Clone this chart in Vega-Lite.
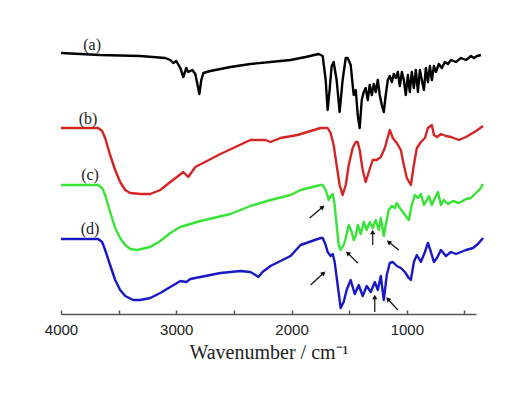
{
  "$schema": "https://vega.github.io/schema/vega-lite/v6.json",
  "width": 415,
  "height": 284,
  "autosize": {"type": "none"},
  "padding": {"left": 61, "top": 30, "right": 54, "bottom": 84},
  "background": "white",
  "config": {"view": {"stroke": null}},
  "datasets": {
    "spectra": [
      {"s":"a","wn":4000,"v":261},{"s":"a","wn":3661,"v":259},{"s":"a","wn":3313,"v":258},{"s":"a","wn":3096,"v":256},{"s":"a","wn":3052,"v":254},{"s":"a","wn":3026,"v":251},{"s":"a","wn":3000,"v":253},{"s":"a","wn":2965,"v":246},{"s":"a","wn":2939,"v":237},{"s":"a","wn":2913,"v":246},{"s":"a","wn":2896,"v":242},{"s":"a","wn":2861,"v":244},{"s":"a","wn":2835,"v":240},{"s":"a","wn":2817,"v":230},{"s":"a","wn":2800,"v":220},{"s":"a","wn":2783,"v":234},{"s":"a","wn":2765,"v":241},{"s":"a","wn":2704,"v":243},{"s":"a","wn":2530,"v":247},{"s":"a","wn":2357,"v":250},{"s":"a","wn":2183,"v":252},{"s":"a","wn":2009,"v":254},{"s":"a","wn":1878,"v":257},{"s":"a","wn":1765,"v":260},{"s":"a","wn":1730,"v":258},{"s":"a","wn":1704,"v":234},{"s":"a","wn":1687,"v":204},{"s":"a","wn":1670,"v":224},{"s":"a","wn":1652,"v":248},{"s":"a","wn":1635,"v":252},{"s":"a","wn":1609,"v":234},{"s":"a","wn":1583,"v":202},{"s":"a","wn":1557,"v":234},{"s":"a","wn":1530,"v":256},{"s":"a","wn":1513,"v":256},{"s":"a","wn":1487,"v":249},{"s":"a","wn":1461,"v":219},{"s":"a","wn":1443,"v":224},{"s":"a","wn":1426,"v":199},{"s":"a","wn":1409,"v":186},{"s":"a","wn":1391,"v":214},{"s":"a","wn":1374,"v":222},{"s":"a","wn":1357,"v":226},{"s":"a","wn":1339,"v":214},{"s":"a","wn":1322,"v":229},{"s":"a","wn":1304,"v":219},{"s":"a","wn":1287,"v":230},{"s":"a","wn":1270,"v":222},{"s":"a","wn":1252,"v":234},{"s":"a","wn":1235,"v":219},{"s":"a","wn":1217,"v":209},{"s":"a","wn":1200,"v":202},{"s":"a","wn":1183,"v":219},{"s":"a","wn":1165,"v":234},{"s":"a","wn":1148,"v":238},{"s":"a","wn":1130,"v":232},{"s":"a","wn":1113,"v":240},{"s":"a","wn":1096,"v":236},{"s":"a","wn":1078,"v":242},{"s":"a","wn":1061,"v":228},{"s":"a","wn":1043,"v":242},{"s":"a","wn":1026,"v":234},{"s":"a","wn":1009,"v":219},{"s":"a","wn":991,"v":239},{"s":"a","wn":974,"v":222},{"s":"a","wn":957,"v":242},{"s":"a","wn":939,"v":226},{"s":"a","wn":922,"v":244},{"s":"a","wn":904,"v":222},{"s":"a","wn":887,"v":244},{"s":"a","wn":870,"v":234},{"s":"a","wn":852,"v":224},{"s":"a","wn":835,"v":246},{"s":"a","wn":817,"v":232},{"s":"a","wn":800,"v":248},{"s":"a","wn":783,"v":234},{"s":"a","wn":765,"v":248},{"s":"a","wn":748,"v":242},{"s":"a","wn":722,"v":250},{"s":"a","wn":696,"v":246},{"s":"a","wn":670,"v":252},{"s":"a","wn":643,"v":250},{"s":"a","wn":617,"v":254},{"s":"a","wn":574,"v":252},{"s":"a","wn":530,"v":256},{"s":"a","wn":487,"v":254},{"s":"a","wn":443,"v":258},{"s":"a","wn":417,"v":256},{"s":"a","wn":391,"v":258},{"s":"a","wn":357,"v":259},

      {"s":"b","wn":4000,"v":186},{"s":"b","wn":3678,"v":186},{"s":"b","wn":3643,"v":183},{"s":"b","wn":3617,"v":176},{"s":"b","wn":3574,"v":159},{"s":"b","wn":3530,"v":144},{"s":"b","wn":3487,"v":132},{"s":"b","wn":3443,"v":124},{"s":"b","wn":3400,"v":121},{"s":"b","wn":3313,"v":120},{"s":"b","wn":3226,"v":120},{"s":"b","wn":3139,"v":124},{"s":"b","wn":3052,"v":132},{"s":"b","wn":2983,"v":138},{"s":"b","wn":2939,"v":142},{"s":"b","wn":2896,"v":137},{"s":"b","wn":2835,"v":147},{"s":"b","wn":2617,"v":160},{"s":"b","wn":2357,"v":174},{"s":"b","wn":2226,"v":174},{"s":"b","wn":2183,"v":172},{"s":"b","wn":2096,"v":176},{"s":"b","wn":1948,"v":179},{"s":"b","wn":1835,"v":183},{"s":"b","wn":1748,"v":186},{"s":"b","wn":1687,"v":186},{"s":"b","wn":1661,"v":181},{"s":"b","wn":1635,"v":169},{"s":"b","wn":1609,"v":149},{"s":"b","wn":1583,"v":129},{"s":"b","wn":1557,"v":119},{"s":"b","wn":1530,"v":129},{"s":"b","wn":1504,"v":149},{"s":"b","wn":1470,"v":166},{"s":"b","wn":1443,"v":172},{"s":"b","wn":1426,"v":172},{"s":"b","wn":1409,"v":164},{"s":"b","wn":1383,"v":144},{"s":"b","wn":1357,"v":132},{"s":"b","wn":1330,"v":142},{"s":"b","wn":1296,"v":154},{"s":"b","wn":1261,"v":154},{"s":"b","wn":1226,"v":157},{"s":"b","wn":1191,"v":166},{"s":"b","wn":1148,"v":184},{"s":"b","wn":1122,"v":176},{"s":"b","wn":1087,"v":171},{"s":"b","wn":1052,"v":164},{"s":"b","wn":1026,"v":149},{"s":"b","wn":1000,"v":136},{"s":"b","wn":965,"v":129},{"s":"b","wn":939,"v":149},{"s":"b","wn":913,"v":166},{"s":"b","wn":878,"v":172},{"s":"b","wn":843,"v":176},{"s":"b","wn":817,"v":186},{"s":"b","wn":783,"v":189},{"s":"b","wn":765,"v":179},{"s":"b","wn":739,"v":177},{"s":"b","wn":704,"v":180},{"s":"b","wn":661,"v":178},{"s":"b","wn":617,"v":177},{"s":"b","wn":548,"v":174},{"s":"b","wn":487,"v":177},{"s":"b","wn":400,"v":183},{"s":"b","wn":339,"v":188},

      {"s":"c","wn":4000,"v":129},{"s":"c","wn":3678,"v":129},{"s":"c","wn":3643,"v":126},{"s":"c","wn":3617,"v":119},{"s":"c","wn":3574,"v":102},{"s":"c","wn":3530,"v":86},{"s":"c","wn":3487,"v":76},{"s":"c","wn":3443,"v":69},{"s":"c","wn":3400,"v":65},{"s":"c","wn":3339,"v":64},{"s":"c","wn":3226,"v":67},{"s":"c","wn":3139,"v":73},{"s":"c","wn":3052,"v":81},{"s":"c","wn":2965,"v":87},{"s":"c","wn":2791,"v":93},{"s":"c","wn":2530,"v":100},{"s":"c","wn":2357,"v":108},{"s":"c","wn":2183,"v":114},{"s":"c","wn":2009,"v":119},{"s":"c","wn":1922,"v":124},{"s":"c","wn":1748,"v":129},{"s":"c","wn":1730,"v":129},{"s":"c","wn":1704,"v":124},{"s":"c","wn":1678,"v":114},{"s":"c","wn":1661,"v":118},{"s":"c","wn":1643,"v":120},{"s":"c","wn":1626,"v":109},{"s":"c","wn":1609,"v":89},{"s":"c","wn":1591,"v":69},{"s":"c","wn":1574,"v":64},{"s":"c","wn":1548,"v":69},{"s":"c","wn":1530,"v":76},{"s":"c","wn":1504,"v":89},{"s":"c","wn":1478,"v":82},{"s":"c","wn":1461,"v":74},{"s":"c","wn":1443,"v":78},{"s":"c","wn":1426,"v":89},{"s":"c","wn":1400,"v":80},{"s":"c","wn":1374,"v":92},{"s":"c","wn":1348,"v":84},{"s":"c","wn":1322,"v":92},{"s":"c","wn":1296,"v":86},{"s":"c","wn":1270,"v":94},{"s":"c","wn":1243,"v":84},{"s":"c","wn":1226,"v":96},{"s":"c","wn":1200,"v":78},{"s":"c","wn":1183,"v":89},{"s":"c","wn":1157,"v":104},{"s":"c","wn":1130,"v":108},{"s":"c","wn":1104,"v":106},{"s":"c","wn":1087,"v":111},{"s":"c","wn":1061,"v":106},{"s":"c","wn":1035,"v":102},{"s":"c","wn":1009,"v":98},{"s":"c","wn":983,"v":94},{"s":"c","wn":957,"v":109},{"s":"c","wn":930,"v":119},{"s":"c","wn":904,"v":116},{"s":"c","wn":878,"v":120},{"s":"c","wn":852,"v":109},{"s":"c","wn":826,"v":114},{"s":"c","wn":809,"v":118},{"s":"c","wn":783,"v":109},{"s":"c","wn":756,"v":116},{"s":"c","wn":730,"v":122},{"s":"c","wn":704,"v":109},{"s":"c","wn":678,"v":114},{"s":"c","wn":643,"v":110},{"s":"c","wn":600,"v":113},{"s":"c","wn":548,"v":111},{"s":"c","wn":487,"v":115},{"s":"c","wn":443,"v":116},{"s":"c","wn":400,"v":121},{"s":"c","wn":365,"v":125},{"s":"c","wn":339,"v":130},

      {"s":"d","wn":4000,"v":75},{"s":"d","wn":3678,"v":75},{"s":"d","wn":3643,"v":72},{"s":"d","wn":3617,"v":64},{"s":"d","wn":3574,"v":49},{"s":"d","wn":3530,"v":34},{"s":"d","wn":3487,"v":24},{"s":"d","wn":3443,"v":18},{"s":"d","wn":3374,"v":14},{"s":"d","wn":3313,"v":14},{"s":"d","wn":3226,"v":16},{"s":"d","wn":3139,"v":21},{"s":"d","wn":3052,"v":27},{"s":"d","wn":2965,"v":33},{"s":"d","wn":2913,"v":32},{"s":"d","wn":2878,"v":35},{"s":"d","wn":2791,"v":37},{"s":"d","wn":2617,"v":41},{"s":"d","wn":2443,"v":43},{"s":"d","wn":2357,"v":42},{"s":"d","wn":2313,"v":39},{"s":"d","wn":2287,"v":37},{"s":"d","wn":2252,"v":42},{"s":"d","wn":2183,"v":48},{"s":"d","wn":2009,"v":58},{"s":"d","wn":1922,"v":69},{"s":"d","wn":1748,"v":76},{"s":"d","wn":1730,"v":76},{"s":"d","wn":1704,"v":69},{"s":"d","wn":1687,"v":62},{"s":"d","wn":1661,"v":58},{"s":"d","wn":1643,"v":60},{"s":"d","wn":1626,"v":52},{"s":"d","wn":1600,"v":29},{"s":"d","wn":1574,"v":6},{"s":"d","wn":1548,"v":12},{"s":"d","wn":1522,"v":24},{"s":"d","wn":1487,"v":34},{"s":"d","wn":1452,"v":20},{"s":"d","wn":1417,"v":29},{"s":"d","wn":1383,"v":18},{"s":"d","wn":1348,"v":28},{"s":"d","wn":1313,"v":22},{"s":"d","wn":1278,"v":32},{"s":"d","wn":1252,"v":24},{"s":"d","wn":1226,"v":38},{"s":"d","wn":1200,"v":14},{"s":"d","wn":1174,"v":39},{"s":"d","wn":1148,"v":51},{"s":"d","wn":1122,"v":52},{"s":"d","wn":1087,"v":48},{"s":"d","wn":1052,"v":46},{"s":"d","wn":1017,"v":42},{"s":"d","wn":983,"v":36},{"s":"d","wn":965,"v":34},{"s":"d","wn":939,"v":52},{"s":"d","wn":913,"v":59},{"s":"d","wn":878,"v":52},{"s":"d","wn":843,"v":62},{"s":"d","wn":817,"v":71},{"s":"d","wn":791,"v":62},{"s":"d","wn":765,"v":52},{"s":"d","wn":739,"v":56},{"s":"d","wn":704,"v":64},{"s":"d","wn":661,"v":58},{"s":"d","wn":617,"v":62},{"s":"d","wn":574,"v":60},{"s":"d","wn":530,"v":62},{"s":"d","wn":487,"v":64},{"s":"d","wn":426,"v":66},{"s":"d","wn":383,"v":70},{"s":"d","wn":339,"v":76}
    ],
    "arrows": [
      {"wn":1843,"v":96,"wn2":1730,"v2":107,"dir":50},
      {"wn":1426,"v":51,"wn2":1513,"v2":61,"dir":-45},
      {"wn":1296,"v":69,"wn2":1296,"v2":82,"dir":0},
      {"wn":1070,"v":64,"wn2":1157,"v2":72,"dir":-51},
      {"wn":1835,"v":29,"wn2":1722,"v2":41,"dir":47},
      {"wn":1278,"v":2,"wn2":1278,"v2":17,"dir":0},
      {"wn":1078,"v":4,"wn2":1165,"v2":15,"dir":-42}
    ],
    "labels": [
      {"wn":3730,"v":269,"t":"(a)"},
      {"wn":3765,"v":195,"t":"(b)"},
      {"wn":3748,"v":139,"t":"(c)"},
      {"wn":3748,"v":85,"t":"(d)"}
    ]
  },
  "encoding": {
    "x": {
      "field": "wn", "type": "quantitative",
      "scale": {"domain": [4000, 400], "nice": false, "zero": false},
      "axis": {
        "title": "Wavenumber / cm⁻¹",
        "values": [4000, 3500, 3000, 2500, 2000, 1500, 1000, 500],
        "labelExpr": "datum.value % 1000 === 0 ? format(datum.value, 'd') : ''",
        "grid": false,
        "domainColor": "#555555",
        "domainWidth": 1.5,
        "tickColor": "#555555",
        "tickWidth": 1.5,
        "tickSize": -4,
        "labelPadding": 12,
        "labelFont": "Liberation Sans",
        "labelFontSize": 15,
        "labelColor": "#222222",
        "labelFlush": false,
        "titleFont": "Liberation Serif",
        "titleFontSize": 20,
        "titleFontWeight": "normal",
        "titleColor": "#222222",
        "titlePadding": 5
      }
    },
    "y": {
      "field": "v", "type": "quantitative",
      "scale": {"domain": [0, 284], "nice": false, "zero": false},
      "axis": null
    }
  },
  "layer": [
    {
      "data": {"name": "spectra"},
      "mark": {"type": "line", "strokeWidth": 2.4, "strokeJoin": "round"},
      "encoding": {
        "color": {
          "field": "s", "type": "nominal",
          "scale": {"domain": ["a", "b", "c", "d"], "range": ["#000000", "#d42424", "#36e336", "#1818c4"]},
          "legend": null
        }
      }
    },
    {
      "data": {"name": "arrows"},
      "mark": {"type": "rule", "color": "#111111", "strokeWidth": 1.2},
      "encoding": {
        "x2": {"field": "wn2"},
        "y2": {"field": "v2"}
      }
    },
    {
      "data": {"name": "arrows"},
      "mark": {"type": "point", "shape": "triangle-up", "filled": true, "color": "#111111", "size": 28, "opacity": 1},
      "encoding": {
        "x": {"field": "wn2", "type": "quantitative"},
        "y": {"field": "v2", "type": "quantitative"},
        "angle": {"field": "dir", "type": "quantitative", "scale": null}
      }
    },
    {
      "data": {"name": "labels"},
      "mark": {"type": "text", "font": "Liberation Serif", "fontSize": 16, "color": "#222222", "align": "center", "baseline": "middle"},
      "encoding": {
        "text": {"field": "t"}
      }
    }
  ]
}
